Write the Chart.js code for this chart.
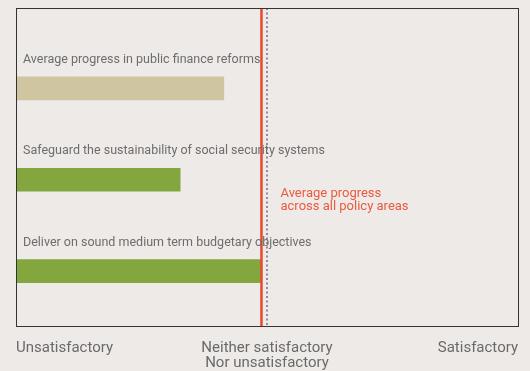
<!DOCTYPE html>
<html>
<head>
<meta charset="utf-8">
<script src="https://cdn.jsdelivr.net/npm/chart.js@4/dist/chart.umd.min.js"></script>
<style>
  html, body { margin: 0; padding: 0; background: #eeeae8; }
  #wrap { width: 530px; height: 371px; position: relative; }
</style>
</head>
<body>
<div id="wrap"><canvas id="c"></canvas></div>
<script>
// Policy areas, top to bottom
const categories = [
  'Average progress in public finance reforms',
  'Safeguard the sustainability of social security systems',
  'Deliver on sound medium term budgetary objectives'
];
// Progress score on a 0–100 scale (50 = neither satisfactory nor unsatisfactory)
const progress = [41.4, 32.7, 48.9];
const barColors = ['#cfc5a1', '#84a63f', '#84a63f'];
// Row positions on the vertical scale
const rows = [1, 2, 3];
// Average across all policy areas and the neutral midpoint
const averageAll = 48.9;
const neutral = 50;
const tickLabels = { 0: 'Unsatisfactory', 50: ['Neither satisfactory', 'Nor unsatisfactory'], 100: 'Satisfactory' };
const averageLabel = ['Average progress', 'across all policy areas'];

const FONT = 'Roboto, "DejaVu Sans", sans-serif';

const overlay = {
  id: 'overlay',
  beforeDatasetsDraw(chart) {
    const { ctx, chartArea: a, scales: { x } } = chart;
    ctx.save();
    // neutral dotted line
    const nx = x.getPixelForValue(neutral);
    ctx.strokeStyle = '#6e6e78';
    ctx.lineWidth = 1.5;
    ctx.setLineDash([2, 2.5]);
    ctx.beginPath();
    ctx.moveTo(nx, a.top);
    ctx.lineTo(nx, a.bottom);
    ctx.stroke();
    ctx.restore();
  },
  afterDatasetsDraw(chart) {
    const { ctx, chartArea: a, scales: { x, y } } = chart;
    ctx.save();
    // average line
    const ax = x.getPixelForValue(averageAll);
    ctx.strokeStyle = '#e8482c';
    ctx.lineWidth = 2.5;
    ctx.beginPath();
    ctx.moveTo(ax, a.top);
    ctx.lineTo(ax, a.bottom);
    ctx.stroke();

    // frame
    ctx.strokeStyle = '#333333';
    ctx.lineWidth = 1;
    ctx.strokeRect(Math.round(a.left) + 0.5, Math.round(a.top) + 0.5, Math.round(a.right - a.left), Math.round(a.bottom - a.top));

    // labels above bars
    ctx.font = '12.5px ' + FONT;
    ctx.fillStyle = '#6d6d6d';
    ctx.textBaseline = 'alphabetic';
    ctx.textAlign = 'left';
    const meta = chart.getDatasetMeta(0);
    meta.data.forEach((bar, i) => {
      const top = bar.y - bar.height / 2;
      ctx.fillText(categories[i], a.left + 7, top - 14);
    });

    // average annotation
    ctx.font = '13px ' + FONT;
    ctx.fillStyle = '#ea5a3e';
    ctx.textBaseline = 'middle';
    averageLabel.forEach((t, i) => {
      ctx.fillText(t, ax + 19, y.getPixelForValue(2.15) + i * 13);
    });
    ctx.restore();
  }
};

new Chart(document.getElementById('c'), {
  type: 'bar',
  data: {
    datasets: [{
      data: rows.map((r, i) => ({ x: progress[i], y: r })),
      backgroundColor: barColors,
      barThickness: 23,
      borderWidth: 0
    }]
  },
  options: {
    indexAxis: 'y',
    responsive: true,
    maintainAspectRatio: false,
    animation: false,
    layout: { padding: { left: 16, right: 12, top: 8, bottom: -7 } },
    plugins: { legend: { display: false }, tooltip: { enabled: false } },
    scales: {
      y: {
        type: 'linear',
        min: 0.12,
        max: 3.6,
        reverse: true,
        offset: false,
        grid: { offset: false },
        display: false
      },
      x: {
        type: 'linear',
        min: 0,
        max: 100,
        afterBuildTicks(s) { s.ticks = [0, 50, 100].map(v => ({ value: v })); },
        grid: { display: false },
        border: { display: false },
        ticks: {
          align: 'inner',
          maxRotation: 0,
          autoSkip: false,
          padding: 7,
          color: '#6a6a6a',
          font: { family: FONT, size: 15, lineHeight: 1.0 },
          callback: v => tickLabels[v]
        }
      }
    }
  },
  plugins: [overlay]
});
</script>
</body>
</html>
